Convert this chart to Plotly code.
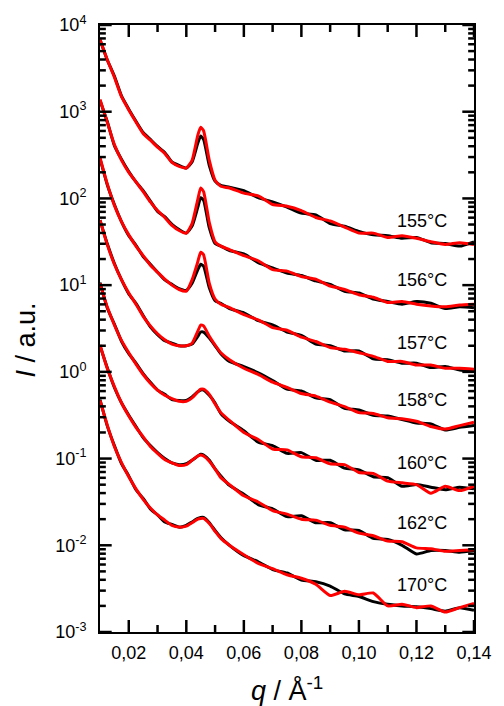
import plotly.graph_objects as go

# Scattering vector q (1/Å)
q = [0.010, 0.0125, 0.015, 0.0175, 0.020, 0.0225, 0.025, 0.0275, 0.030, 0.0325,
     0.035, 0.0375, 0.040, 0.042, 0.044, 0.045, 0.046, 0.048, 0.050, 0.052, 0.055,
     0.060, 0.065, 0.070, 0.075, 0.080, 0.085, 0.090, 0.095, 0.100, 0.105, 0.110,
     0.115, 0.120, 0.125, 0.130, 0.135, 0.140]

# Intensities (a.u., curves shifted vertically), black and red run per temperature
I155_black = [6760, 3980, 2570, 1510, 1070, 776, 575, 479, 398, 339, 263, 240, 224, 263, 437, 525, 479, 240, 158, 141, 135,
              123, 102, 91.2, 79.4, 67.6, 64.6, 51.3, 47.9, 41.7, 38.0, 37.2, 34.7, 35.5, 30.9, 30.2, 28.2, 31.6]
I155_red = [6800, 4000, 2500, 1480, 1050, 760, 560, 470, 390, 330, 260, 234, 224, 275, 537, 661, 603, 275, 162, 138, 132,
            115, 107, 85.1, 81.3, 72.4, 60.3, 55.0, 46.8, 39.8, 39.8, 35.5, 37.2, 34.7, 31.6, 29.5, 30.9, 29.5]

I156_black = [1350, 776, 407, 282, 204, 155, 123, 93.3, 70.8, 61.7, 50.1, 43.7, 39.8, 47.9, 79.4, 102, 95.5, 45.7, 30.2, 28.2, 25.1,
              22.9, 18.2, 15.8, 13.8, 12.9, 11.2, 10.2, 8.51, 8.13, 6.92, 6.46, 6.03, 6.46, 6.17, 5.37, 5.62, 5.50]
I156_red = [1380, 759, 417, 275, 200, 155, 120, 91.2, 72.4, 60.3, 49.0, 42.7, 39.8, 51.3, 97.7, 132, 120, 52.5, 31.6, 28.2, 25.7,
            21.9, 19.1, 15.1, 14.5, 12.6, 11.7, 9.77, 8.91, 7.76, 7.24, 6.31, 6.46, 6.03, 5.75, 5.62, 5.89, 6.03]

I157_black = [288, 145, 85.1, 53.7, 37.2, 28.8, 21.4, 17.4, 14.1, 11.5, 10.2, 9.12, 8.71, 10.5, 15.1, 17.4, 16.6, 9.33, 6.61, 6.17, 5.37,
              4.79, 3.89, 3.47, 2.88, 2.63, 2.09, 2.00, 1.74, 1.74, 1.41, 1.38, 1.26, 1.26, 1.12, 1.15, 1.05, 1.02]
I157_red = [295, 148, 83.2, 53.7, 38.0, 28.2, 21.9, 17.0, 14.1, 11.7, 10.0, 8.91, 8.51, 11.5, 18.6, 24.0, 22.4, 10.5, 6.92, 6.03, 5.50,
            4.57, 3.98, 3.24, 3.02, 2.51, 2.24, 1.91, 1.82, 1.66, 1.51, 1.32, 1.32, 1.20, 1.20, 1.10, 1.10, 1.07]

I158_black = [56.2, 30.2, 17.8, 11.5, 7.94, 6.17, 4.47, 3.31, 2.69, 2.29, 2.14, 2.00, 2.00, 2.09, 2.57, 2.88, 2.88, 2.45, 2.00, 1.62, 1.32,
              1.15, 0.977, 0.794, 0.631, 0.603, 0.501, 0.479, 0.380, 0.363, 0.316, 0.309, 0.282, 0.257, 0.251, 0.214, 0.229, 0.240]
I158_red = [56.2, 29.5, 17.4, 11.5, 8.13, 6.03, 4.37, 3.39, 2.75, 2.34, 2.09, 2.00, 2.00, 2.14, 2.95, 3.47, 3.39, 2.57, 2.04, 1.66, 1.38,
            1.10, 0.933, 0.759, 0.661, 0.562, 0.525, 0.447, 0.398, 0.339, 0.331, 0.295, 0.288, 0.269, 0.234, 0.219, 0.240, 0.263]

I160_black = [10.7, 5.50, 3.55, 2.24, 1.62, 1.26, 0.955, 0.759, 0.617, 0.550, 0.479, 0.468, 0.468, 0.513, 0.589, 0.617, 0.617, 0.537, 0.437, 0.331, 0.269,
              0.209, 0.155, 0.141, 0.115, 0.117, 0.0955, 0.0955, 0.0776, 0.0741, 0.0617, 0.0603, 0.0479, 0.0501, 0.0468, 0.0437, 0.0468, 0.0447]
I160_red = [10.5, 5.62, 3.47, 2.29, 1.66, 1.23, 0.933, 0.741, 0.617, 0.537, 0.490, 0.457, 0.457, 0.501, 0.589, 0.631, 0.631, 0.550, 0.427, 0.339, 0.275,
            0.200, 0.166, 0.129, 0.126, 0.105, 0.102, 0.0871, 0.0851, 0.0692, 0.0676, 0.0550, 0.0525, 0.0501, 0.0398, 0.0479, 0.0427, 0.0479]

I162_black = [2.00, 1.12, 0.661, 0.437, 0.316, 0.234, 0.174, 0.141, 0.117, 0.100, 0.0891, 0.0851, 0.0871, 0.0955, 0.107, 0.112, 0.110, 0.0955, 0.0759, 0.0631, 0.0490,
              0.0389, 0.0295, 0.0263, 0.0214, 0.0219, 0.0182, 0.0182, 0.0151, 0.0148, 0.0120, 0.0117, 0.0100, 0.00794, 0.00871, 0.00871, 0.00832, 0.00871]
I162_red = [2.04, 1.10, 0.676, 0.437, 0.309, 0.229, 0.178, 0.138, 0.115, 0.0977, 0.0891, 0.0832, 0.0851, 0.0955, 0.107, 0.110, 0.107, 0.0933, 0.0759, 0.0603, 0.0501,
            0.0372, 0.0316, 0.0251, 0.0229, 0.0200, 0.0195, 0.0170, 0.0162, 0.0138, 0.0129, 0.0112, 0.0110, 0.00933, 0.00912, 0.00851, 0.00871, 0.00891]

I170_black = [0.479, 0.240, 0.141, 0.0871, 0.0631, 0.0437, 0.0347, 0.0263, 0.0224, 0.0186, 0.0174, 0.0162, 0.0170, 0.0186, 0.0204, 0.0209, 0.0209, 0.0182, 0.0148, 0.0123, 0.0100,
              0.00759, 0.00646, 0.00525, 0.00479, 0.00398, 0.00380, 0.00339, 0.00275, 0.00257, 0.00224, 0.00209, 0.00200, 0.00195, 0.00186, 0.00174, 0.00191, 0.00178]
I170_red = [0.468, 0.245, 0.138, 0.0891, 0.0617, 0.0447, 0.0339, 0.0269, 0.0224, 0.0195, 0.0170, 0.0162, 0.0166, 0.0182, 0.0200, 0.0204, 0.0204, 0.0178, 0.0145, 0.0120, 0.0100,
            0.00776, 0.00617, 0.00537, 0.00457, 0.00417, 0.00355, 0.00263, 0.00295, 0.00269, 0.00282, 0.00200, 0.00209, 0.00191, 0.00200, 0.00170, 0.00191, 0.00214]

temperatures = ["155°C", "156°C", "157°C", "158°C", "160°C", "162°C", "170°C"]
black_runs = [I155_black, I156_black, I157_black, I158_black, I160_black, I162_black, I170_black]
red_runs = [I155_red, I156_red, I157_red, I158_red, I160_red, I162_red, I170_red]

y_tick_exp = [-3, -2, -1, 0, 1, 2, 3, 4]
x_tick_vals = [0.02, 0.04, 0.06, 0.08, 0.10, 0.12, 0.14]
x_minor_vals = [0.03, 0.05, 0.07, 0.09, 0.11, 0.13]
y_minor_vals = [k * 10.0 ** n for n in range(-3, 4) for k in range(2, 10)]

FONT = "Liberation Sans, Arial, sans-serif"
X_RANGE = [0.01, 0.14]
Y_RANGE = [-3, 4]          # log10 decades
W, H = 504, 706
M = dict(l=100, r=20, t=25, b=74)
PLOT_W = W - M["l"] - M["r"]
PLOT_H = H - M["t"] - M["b"]

fig = go.Figure()
for name, yb, yr in zip(temperatures, black_runs, red_runs):
    fig.add_trace(go.Scatter(x=q, y=yb, mode="lines", name=name,
                             line=dict(color="#000000", width=3, shape="spline", smoothing=0.5),
                             showlegend=False))
    fig.add_trace(go.Scatter(x=q, y=yr, mode="lines", name=name,
                             line=dict(color="#ff0000", width=3, shape="spline", smoothing=0.5),
                             showlegend=False))

# inward tick marks on all four sides, built in axis units from the tick values
x_per_px = (X_RANGE[1] - X_RANGE[0]) / PLOT_W
dec_per_px = (Y_RANGE[1] - Y_RANGE[0]) / PLOT_H
tx, ty = [], []
for vals, length in ((x_tick_vals, 12), (x_minor_vals, 7)):
    for v in vals:
        tx += [v, v, None, v, v, None]
        ty += [10.0 ** Y_RANGE[0], 10.0 ** (Y_RANGE[0] + length * dec_per_px), None,
               10.0 ** Y_RANGE[1], 10.0 ** (Y_RANGE[1] - length * dec_per_px), None]
for vals, length in (([10.0 ** e for e in y_tick_exp], 12), (y_minor_vals, 6)):
    for v in vals:
        tx += [X_RANGE[0], X_RANGE[0] + length * x_per_px, None,
               X_RANGE[1], X_RANGE[1] - length * x_per_px, None]
        ty += [v, v, None, v, v, None]
fig.add_trace(go.Scatter(x=tx, y=ty, mode="lines", line=dict(color="#000000", width=2.5),
                         hoverinfo="skip", showlegend=False, cliponaxis=False))

fig.update_xaxes(range=X_RANGE, showline=True, linecolor="black", linewidth=2, mirror=True,
                 ticks="", tickmode="array", tickvals=x_tick_vals, tickformat=".2f",
                 ticklabelstandoff=3, showgrid=False, zeroline=False,
                 tickfont=dict(family=FONT, size=18, color="black"))
fig.update_yaxes(type="log", range=Y_RANGE, showline=True, linecolor="black", linewidth=2, mirror=True,
                 ticks="", tickmode="array", tickvals=[10.0 ** e for e in y_tick_exp],
                 ticktext=[f"10<sup>{e}</sup>" for e in y_tick_exp],
                 ticklabelstandoff=8, showgrid=False, zeroline=False,
                 tickfont=dict(family=FONT, size=18, color="black"))

# temperature labels beside each pair of curves
label_y = [0.677, 0.580, 0.476, 0.382, 0.278, 0.180, 0.077]
annotations = [
    dict(text=t, x=0.932, y=ly, xref="paper", yref="paper", xanchor="right", yanchor="middle",
         showarrow=False, font=dict(family=FONT, size=18, color="black"))
    for t, ly in zip(temperatures, label_y)
]
annotations.append(dict(text="<i>I</i> / a.u.", x=0, y=0.5, xref="paper", yref="paper",
                        xshift=-75, yshift=-12, textangle=-90, showarrow=False,
                        xanchor="center", yanchor="middle",
                        font=dict(family=FONT, size=27, color="black")))
annotations.append(dict(text="<i>q</i> / Å<sup>-1</sup>", x=0.5, y=0, xref="paper", yref="paper",
                        yshift=-57, showarrow=False, xanchor="center", yanchor="middle",
                        font=dict(family=FONT, size=27, color="black")))

fig.update_layout(
    width=W, height=H,
    margin=M,
    paper_bgcolor="white", plot_bgcolor="white",
    separators=",.",
    font=dict(family=FONT, color="black"),
    annotations=annotations,
)

fig.write_html("out.html")
